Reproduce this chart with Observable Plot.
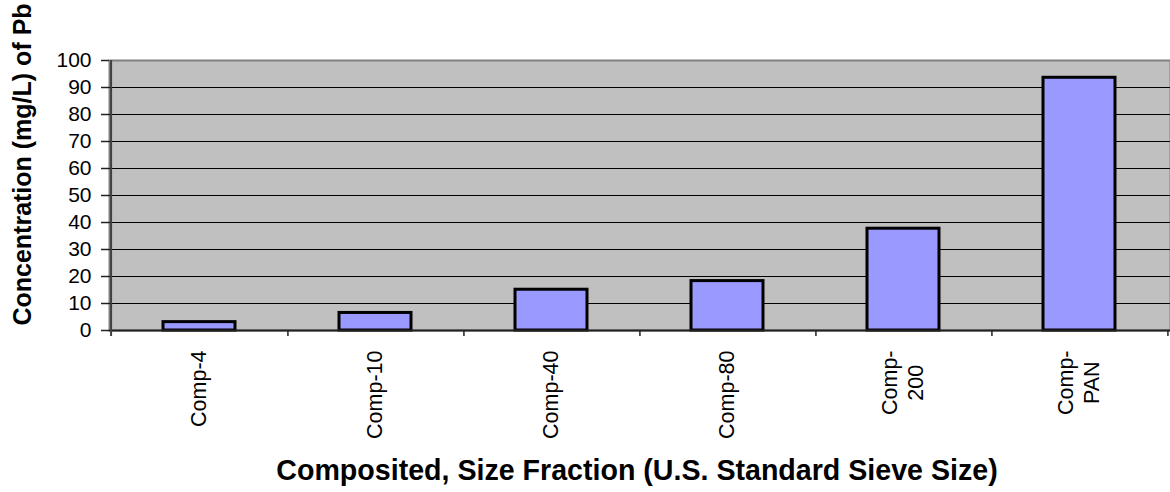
<!DOCTYPE html>
<html>
<head>
<meta charset="utf-8">
<script src="https://cdn.jsdelivr.net/npm/d3@7"></script>
<script src="https://cdn.jsdelivr.net/npm/@observablehq/plot@0.6"></script>
<style>
  html, body { margin: 0; padding: 0; background: #fff; overflow: hidden; }
  svg { display: block; }
</style>
</head>
<body>
<div id="chart"></div>
<script>
const categories = ["Comp-4", "Comp-10", "Comp-40", "Comp-80", "Comp-\n200", "Comp-\nPAN"];
const values = [3.1, 6.5, 15.1, 18.3, 37.7, 93.6];
const yTicks = [0, 10, 20, 30, 40, 50, 60, 70, 80, 90, 100];
const gridTicks = [10, 20, 30, 40, 50, 60, 70, 80, 90];
const yTitle = "Concentration (mg/L) of Pb";
const xTitle = "Composited, Size Fraction (U.S. Standard Sieve Size)";

const data = categories.map((c, i) => ({cat: c, value: values[i]}));

const W = 1170, H = 492;
const mL = 109, mR = 0, mT = 60, mB = 162;
const step = (W - mL - mR) / categories.length;

const fontFamily = "'Liberation Sans', Arial, Helvetica, sans-serif";
const labelSize = 21.5;
const tickSize = 21;
const ctx = document.createElement("canvas").getContext("2d");
ctx.font = `${labelSize}px ${fontFamily}`;
const lineH = labelSize * 1.2;

// category label lines: block top-aligned below the axis, lines centred within block
const labelMarks = categories.flatMap(c => {
  const lines = c.split("\n");
  const w = d3.max(lines, l => ctx.measureText(l).width);
  return lines.map((l, i) => Plot.text([{cat: c, t: l}], {
    x: "cat", text: "t", frameAnchor: "bottom", rotate: -90,
    textAnchor: "middle", lineAnchor: "middle",
    dy: 20 + w / 2,
    dx: (i - (lines.length - 1) / 2) * lineH,
    fontSize: labelSize, fill: "#000"
  }));
});

const chart = Plot.plot({
  width: W, height: H,
  marginLeft: mL, marginRight: mR, marginTop: mT, marginBottom: mB,
  style: {fontFamily, fontSize: `${tickSize}px`, background: "#fff", color: "#000"},
  x: {domain: categories, paddingInner: 0.59, paddingOuter: 0.295, axis: null},
  y: {domain: [0, 100], axis: null},
  marks: [
    Plot.frame({fill: "#C0C0C0", stroke: "#808080", strokeWidth: 2}),
    Plot.gridY(gridTicks, {stroke: "#000", strokeOpacity: 1, strokeWidth: 1}),
    Plot.barY(data, {x: "cat", y: "value", fill: "#9999FF", stroke: "#000", strokeWidth: 3}),
    Plot.ruleY([0], {stroke: "#222", strokeWidth: 2}),
    Plot.ruleX([categories[0]], {x: d => d, dx: -step / 2, y1: 100, y2: 0, insetBottom: -6, stroke: "#404040", strokeWidth: 2}),
    Plot.ruleX(categories, {x: d => d, dx: step / 2, y1: 0, y2: 0, insetBottom: -6, stroke: "#222", strokeWidth: 1.5}),
    Plot.axisY(yTicks, {anchor: "left", tickSize: 8, tickPadding: 10, fontSize: tickSize, stroke: "#222", strokeWidth: 1.5, label: null}),
    ...labelMarks,
    Plot.text([yTitle], {frameAnchor: "left", textAnchor: "middle", lineAnchor: "middle", rotate: -90, dx: -87, dy: -31, fontSize: 25, fontWeight: "bold", fill: "#000"}),
    Plot.text([xTitle], {frameAnchor: "bottom", textAnchor: "middle", lineAnchor: "middle", dx: -3, dy: 140, fontSize: 28.6, fontWeight: "bold", fill: "#000"})
  ]
});
document.getElementById("chart").appendChild(chart);
</script>
</body>
</html>
